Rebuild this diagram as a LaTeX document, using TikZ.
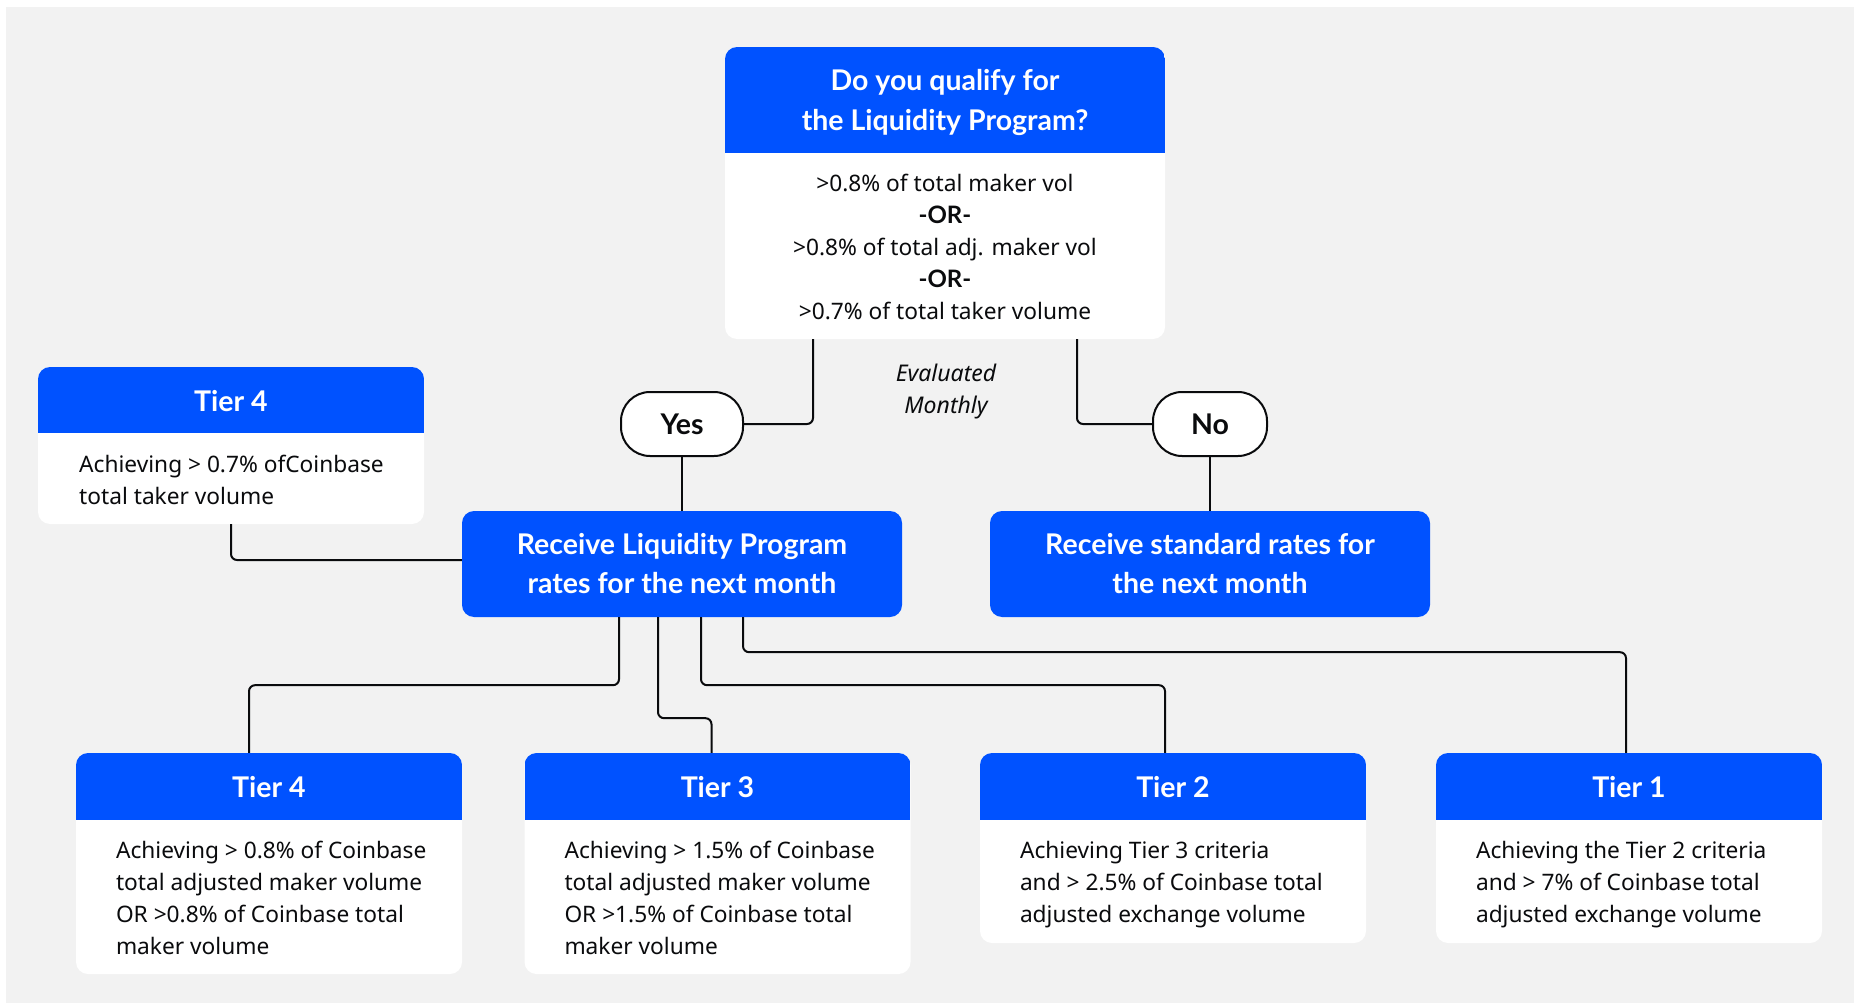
\documentclass[tikz,border=0pt]{standalone}
\usepackage{fontspec}
\setmainfont{Noto Sans}
\newfontfamily\headfont{Lato}
\definecolor{cbblue}{HTML}{0052FF}
\definecolor{cbgray}{HTML}{F2F2F2}
\definecolor{cbink}{HTML}{0A0B0D}
\newcommand{\orword}{{\headfont\bfseries\fontsize{24}{32}\selectfont -OR-}}
\tikzset{
  tierbox/.style={fill=white, rounded corners=12pt, inner sep=0pt, minimum width=386pt,
    path picture={\fill[cbblue, sharp corners] (path picture bounding box.north west) rectangle ([yshift=-#1]path picture bounding box.north east);}},
  bluebox/.style={fill=cbblue, rounded corners=12pt, text=white, align=center, minimum width=440pt, minimum height=106pt,
    font=\headfont\fontsize{28.5}{39}\selectfont\bfseries},
  pill/.style={draw=cbink, line width=2pt, fill=white, rounded corners=29pt, minimum height=64pt, text=cbink,
    font=\headfont\fontsize{28.5}{30}\selectfont\bfseries},
  link/.style={draw=cbink, line width=2pt, rounded corners=6pt},
  tiertitle/.style={text=white, font=\headfont\fontsize{28.5}{30}\selectfont\bfseries},
  tiertext/.style={text=cbink, align=left, inner sep=0pt, anchor=north west, font=\fontsize{22.7}{32}\selectfont}
}
\begin{document}
\begin{tikzpicture}[x=1pt, y=-1pt]
  \useasboundingbox (0,0) rectangle (1858,1008);
  \fill[white] (0,0) rectangle (1858,1008);
  \fill[cbgray] (6,7) rectangle (1854,1003);
  \node[tierbox=106pt, minimum width=440pt, minimum height=292pt] (q) at (945,193) {};
  \node[tiertitle, align=center, font=\headfont\fontsize{28.5}{40}\selectfont\bfseries] (qtitle) at (945,102.5) {Do you qualify for\\the Liquidity Program?};
  \node[tiertext, align=center, anchor=center] (qtext) at (945,247) {>0.8\% of total maker vol\\\orword\\>0.8\% of total adj. maker vol\\\orword\\>0.7\% of total taker volume};
  \node[text=cbink, align=center, font=\fontsize{23}{32}\selectfont\itshape] (eval) at (946,391.5) {Evaluated\\Monthly};
  \node[pill, minimum width=122pt] (yes) at (682,424) {Yes};
  \node[pill, minimum width=114pt] (no) at (1210,424) {No};
  \node[bluebox] (lp) at (682,564) {Receive Liquidity Program\\rates for the next month};
  \node[bluebox] (std) at (1210,564) {Receive standard rates for\\the next month};
  \node[tierbox=66pt, minimum height=157pt] (up4) at (231,445.5) {};
  \node[tiertitle] (up4title) at (231,401) {Tier 4};
  \node[tiertext] (up4text) at (79,455) {Achieving > 0.7\% ofCoinbase\\total taker volume};
  \foreach \n/\x/\h/\y/\title/\body in {
    t4/269/221/863.5/Tier 4/{Achieving > 0.8\% of Coinbase\\total adjusted maker volume\\OR >0.8\% of Coinbase total\\maker volume},
    t3/717.5/221/863.5/Tier 3/{Achieving > 1.5\% of Coinbase\\total adjusted maker volume\\OR >1.5\% of Coinbase total\\maker volume},
    t2/1173/190/848/Tier 2/{Achieving Tier 3 criteria\\and > 2.5\% of Coinbase total\\adjusted exchange volume},
    t1/1629/190/848/Tier 1/{Achieving the Tier 2 criteria\\and > 7\% of Coinbase total\\adjusted exchange volume}}
  {
    \node[tierbox=67pt, minimum height=\h pt] (\n) at (\x,\y) {};
    \node[tiertitle] (\n title) at (\x,787) {\title};
    \node[tiertext] (\n text) at ([xshift=40pt, yshift=-88pt]\n.north west) {\body};
  }
  \draw[link] ([xshift=-132pt]q.south) |- (yes.east);
  \draw[link] ([xshift=132pt]q.south) |- (no.west);
  \draw[link] (yes) -- (lp);
  \draw[link] (no) -- (std);
  \draw[link] (up4.south) |- ([yshift=4pt]lp.west);
  \draw[link] ([xshift=-63pt]lp.south) -- ++(0,68) -| ([xshift=-20pt]t4.north);
  \draw[link] ([xshift=-24pt]lp.south) -- ++(0,101) -| ([xshift=-6pt]t3.north);
  \draw[link] ([xshift=19pt]lp.south) -- ++(0,68) -| ([xshift=-8pt]t2.north);
  \draw[link] ([xshift=61pt]lp.south) -- ++(0,35) -| ([xshift=-3pt]t1.north);
\end{tikzpicture}
\end{document}
